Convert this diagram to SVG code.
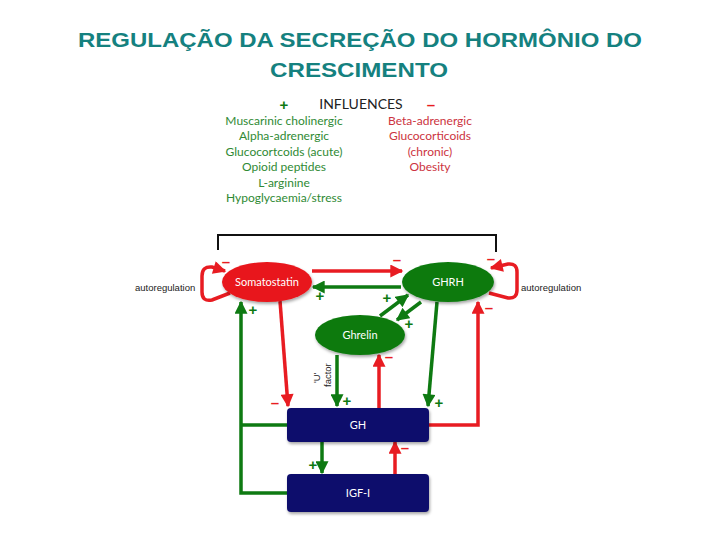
<svg xmlns="http://www.w3.org/2000/svg" width="720" height="540" viewBox="0 0 720 540">
<style>
.title{font-family:"Liberation Sans",Arial,sans-serif;font-weight:bold;font-size:21px;fill:#15817f;text-anchor:middle}
.inf{font-family:Lato,"Open Sans",sans-serif;font-size:12px;text-anchor:middle}
.pos{fill:#2f8a34}
.neg{fill:#cc3340}
.node{font-family:Lato,"Open Sans",sans-serif;font-size:11px;fill:#ffffff;text-anchor:middle}
.auto{font-family:"Liberation Sans",Arial,sans-serif;font-size:9.5px;fill:#222}
.r{stroke:#e81c22;stroke-width:3.5;fill:none}
.g{stroke:#0e7a12;stroke-width:3.5;fill:none}
.sg{font-family:"Liberation Sans",Arial,sans-serif;font-size:15px;font-weight:bold;text-anchor:middle}
.sr{fill:#e81c22}
.sgg{fill:#0e7a12}
</style>
<defs>
<marker id="ar" viewBox="0 0 10 10" refX="9" refY="5" markerUnits="userSpaceOnUse" markerWidth="14" markerHeight="13" orient="auto"><path d="M0,0 L10,5 L0,10 z" fill="#e81c22"/></marker>
<marker id="ag" viewBox="0 0 10 10" refX="9" refY="5" markerUnits="userSpaceOnUse" markerWidth="14" markerHeight="13" orient="auto"><path d="M0,0 L10,5 L0,10 z" fill="#0e7a12"/></marker>
<filter id="sh" x="-20%" y="-20%" width="140%" height="150%"><feDropShadow dx="1" dy="2" stdDeviation="1.5" flood-color="#000" flood-opacity="0.35"/></filter>
</defs>
<text class="title" x="360" y="47" textLength="564" lengthAdjust="spacingAndGlyphs">REGULAÇÃO DA SECREÇÃO DO HORMÔNIO DO</text>
<text class="title" x="359" y="77" textLength="178" lengthAdjust="spacingAndGlyphs">CRESCIMENTO</text>
<g id="influences">
<text x="361" y="109" font-family="Lato,'Open Sans',sans-serif" font-size="14" fill="#222" text-anchor="middle">INFLUENCES</text>
<text class="sg sgg" x="284" y="110" font-size="12">+</text>
<text class="sg sr" x="431" y="110">–</text>
<text class="inf pos" x="284" y="125">Muscarinic cholinergic</text>
<text class="inf pos" x="284" y="140">Alpha-adrenergic</text>
<text class="inf pos" x="284" y="156">Glucocortcoids (acute)</text>
<text class="inf pos" x="284" y="171">Opioid peptides</text>
<text class="inf pos" x="284" y="187">L-arginine</text>
<text class="inf pos" x="284" y="202">Hypoglycaemia/stress</text>
<text class="inf neg" x="430" y="125">Beta-adrenergic</text>
<text class="inf neg" x="430" y="140">Glucocorticoids</text>
<text class="inf neg" x="430" y="156">(chronic)</text>
<text class="inf neg" x="430" y="171">Obesity</text>
</g>
<g id="connectors">
<path d="M218,250 V235 H496 V252" stroke="#111" stroke-width="2" fill="none"/>
<path class="r" d="M230,293 L212,300 Q202,302 202,292 V276 Q202,266 212,267 L225,271" marker-end="url(#ar)"/>
<path class="r" d="M489,293 L508,298 Q517,299 517,290 V272 Q517,263 508,264 L491,268" marker-end="url(#ar)"/>
<path class="r" d="M312,271 H402" marker-end="url(#ar)"/>
<path class="g" d="M401,287 H313" marker-end="url(#ag)"/>
<path class="g" d="M380,316 L408,295" marker-end="url(#ag)"/>
<path class="g" d="M421,302 L397,320" marker-end="url(#ag)"/>
<path class="r" d="M280,301 L288,406" marker-end="url(#ar)"/>
<path class="g" d="M287,493 H241 V302" marker-end="url(#ag)"/>
<path class="g" d="M287,425 H241"/>
<path class="g" d="M337,355 V406" marker-end="url(#ag)"/>
<path class="r" d="M379,408 V355" marker-end="url(#ar)"/>
<path class="g" d="M437,302 L428,406" marker-end="url(#ag)"/>
<path class="r" d="M429,425 H478 V302" marker-end="url(#ar)"/>
<path class="g" d="M322,442 V473" marker-end="url(#ag)"/>
<path class="r" d="M395,474 V442" marker-end="url(#ar)"/>
<text class="sg sr" x="226" y="267">–</text>
<text class="sg sr" x="491" y="264">–</text>
<text class="sg sr" x="397" y="265">–</text>
<text class="sg sgg" x="320" y="301">+</text>
<text class="sg sgg" x="253" y="315">+</text>
<text class="sg sgg" x="387" y="303">+</text>
<text class="sg sgg" x="409" y="329">+</text>
<text class="sg sr" x="275" y="408">–</text>
<text class="sg sgg" x="347" y="406">+</text>
<text class="sg sr" x="389" y="362">–</text>
<text class="sg sgg" x="439" y="408">+</text>
<text class="sg sr" x="489" y="313">–</text>
<text class="sg sgg" x="313" y="470">+</text>
<text class="sg sr" x="405" y="453">–</text>
<text class="auto" x="135" y="291">autoregulation</text>
<text class="auto" x="521" y="291">autoregulation</text>
<text class="auto" transform="translate(320,383) rotate(-90)">'U'</text>
<text class="auto" transform="translate(331,387) rotate(-90)">factor</text>
</g>
<g id="somatostatin">
<ellipse cx="267" cy="282" rx="45" ry="20" fill="#e8161b" filter="url(#sh)"/>
<text class="node" x="267" y="286">Somatostatin</text>
</g>
<g id="ghrh">
<ellipse cx="448" cy="282" rx="46" ry="20" fill="#0a7a0c" filter="url(#sh)"/>
<text class="node" x="448" y="286" font-size="12">GHRH</text>
</g>
<g id="ghrelin">
<ellipse cx="360" cy="335" rx="45" ry="20" fill="#0a7a0c" filter="url(#sh)"/>
<text class="node" x="360" y="339" font-size="12">Ghrelin</text>
</g>
<g id="gh">
<rect x="287" y="408" width="142" height="34" rx="4" fill="#0c0c6c" filter="url(#sh)"/>
<text class="node" x="358" y="429" font-size="12">GH</text>
</g>
<g id="igf">
<rect x="287" y="474" width="142" height="38" rx="4" fill="#0c0c6c" filter="url(#sh)"/>
<text class="node" x="358" y="497" font-size="12">IGF-I</text>
</g>
</svg>
